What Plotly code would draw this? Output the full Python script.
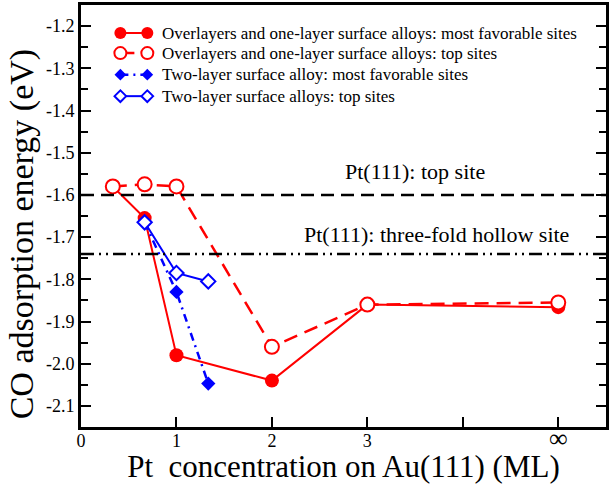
import plotly.graph_objects as go

# ---- data ----
INF_POS = 5  # axis position used for the "infinity" coverage
conc_ol = [1/3, 2/3, 1, 2, 3, INF_POS]
e_ol_fav = [-1.58, -1.655, -1.98, -2.04, -1.86, -1.866]
e_ol_top = [-1.58, -1.575, -1.58, -1.96, -1.86, -1.855]
conc_2l = [2/3, 1, 4/3]
e_2l_fav = [-1.665, -1.83, -2.047]
e_2l_top = [-1.665, -1.785, -1.805]

pt111_top = -1.60
pt111_hollow = -1.74

xtick_vals = [0, 1, 2, 3, 4, 5]
xtick_text = ["0", "1", "2", "3", "", "<span style='font-size:26px'>∞</span>"]
ytick_vals = [-2.1, -2.0, -1.9, -1.8, -1.7, -1.6, -1.5, -1.4, -1.3, -1.2]
ytick_text = ["-2.1", "-2.0", "-1.9", "-1.8", "-1.7", "-1.6", "-1.5", "-1.4", "-1.3", "-1.2"]

legend_labels = [
    "Overlayers and one-layer surface alloys: most favorable sites",
    "Overlayers and one-layer surface alloys: top sites",
    "Two-layer surface alloy: most favorable sites",
    "Two-layer surface alloys: top sites",
]

FONT = "Liberation Serif"
RED = "#ff0000"
BLUE = "#0000ff"

styles = [
    dict(line=dict(color=RED, width=2), marker=dict(symbol="circle", size=14, color=RED, line=dict(color=RED, width=0))),
    dict(line=dict(color=RED, width=2.5, dash="14px,8px"), marker=dict(symbol="circle", size=14, color="white", line=dict(color=RED, width=2))),
    dict(line=dict(color=BLUE, width=2.5, dash="8px,5px,2px,5px"), marker=dict(symbol="diamond", size=11, color=BLUE, line=dict(color=BLUE, width=0))),
    dict(line=dict(color=BLUE, width=2), marker=dict(symbol="diamond", size=11, color="white", line=dict(color=BLUE, width=2))),
]

series = [
    (conc_ol, e_ol_fav, 0),
    (conc_ol, e_ol_top, 1),
    (conc_2l, e_2l_fav, 2),
    (conc_2l, e_2l_top, 3),
]

fig = go.Figure()

for xs, ys, si in series:
    st = styles[si]
    fig.add_trace(go.Scatter(x=xs, y=ys, mode="lines+markers", line=st["line"],
                             marker=st["marker"], showlegend=False, hoverinfo="skip"))

# reference lines
fig.add_hline(y=pt111_top, line=dict(color="black", width=2.5, dash="13px,7px"))
fig.add_hline(y=pt111_hollow, line=dict(color="black", width=2.5, dash="13px,5px,2px,5px,2px,5px"))

fig.add_annotation(x=3.5, y=pt111_top + 0.055, text="Pt(111): top site", showarrow=False,
                   font=dict(family=FONT, size=22, color="black"), xref="x", yref="y")
fig.add_annotation(x=3.72, y=pt111_hollow + 0.045, text="Pt(111): three-fold hollow site", showarrow=False,
                   font=dict(family=FONT, size=22, color="black"), xref="x", yref="y")

# y-axis title (placed as annotation to match the reference offset)
fig.add_annotation(x=-0.112, y=0.457, xref="paper", yref="paper", text="CO adsorption energy (eV)",
                   textangle=-90, showarrow=False, xanchor="center", yanchor="middle",
                   font=dict(family=FONT, size=34, color="black"))

# custom legend (drawn on an overlaid unit axis)
leg_rows_y = [0.9336, 0.886, 0.835, 0.784]
leg_x0, leg_x1, leg_tx = 0.075, 0.1263, 0.1496
for i, lab in enumerate(legend_labels):
    st = styles[i]
    mk = dict(st["marker"])
    mk["size"] = mk["size"] - 2
    fig.add_trace(go.Scatter(x=[leg_x0, leg_x1], y=[leg_rows_y[i]] * 2, mode="lines+markers",
                             line=st["line"], marker=mk, xaxis="x2", yaxis="y2",
                             showlegend=False, hoverinfo="skip"))
    fig.add_annotation(x=leg_tx, y=leg_rows_y[i], xref="paper", yref="paper", text=lab,
                       showarrow=False, xanchor="left", yanchor="middle",
                       font=dict(family=FONT, size=17, color="black"))

fig.update_layout(
    width=611, height=484,
    margin=dict(l=81, r=2, t=5, b=57),
    paper_bgcolor="white", plot_bgcolor="white",
    font=dict(family=FONT, color="black"),
    xaxis=dict(range=[0, 5.5], tickvals=xtick_vals, ticktext=xtick_text,
               ticks="inside", ticklen=10, tickwidth=1.5, tickcolor="black",
               showline=True, linewidth=3, linecolor="black", mirror=True,
               showgrid=False, zeroline=False, ticklabelstandoff=-5,
               tickfont=dict(family=FONT, size=18, color="black"),
               title=dict(text="Pt\u00a0\u00a0concentration on Au(111) (ML)",
                          font=dict(family=FONT, size=31, color="black"), standoff=0)),
    yaxis=dict(range=[-2.15, -1.15], tickvals=ytick_vals, ticktext=ytick_text,
               ticks="inside", ticklen=10, tickwidth=1.5, tickcolor="black",
               minor=dict(dtick=0.05, tick0=-2.15, ticks="inside", ticklen=7, tickwidth=1.5, tickcolor="black"),
               showline=True, linewidth=3, linecolor="black", mirror="ticks",
               showgrid=False, zeroline=False,
               tickfont=dict(family=FONT, size=18, color="black")),
    xaxis2=dict(range=[0, 1], overlaying="x", visible=False, anchor="y2"),
    yaxis2=dict(range=[0, 1], overlaying="y", visible=False, anchor="x2"),
)

fig.write_html("out.html")
